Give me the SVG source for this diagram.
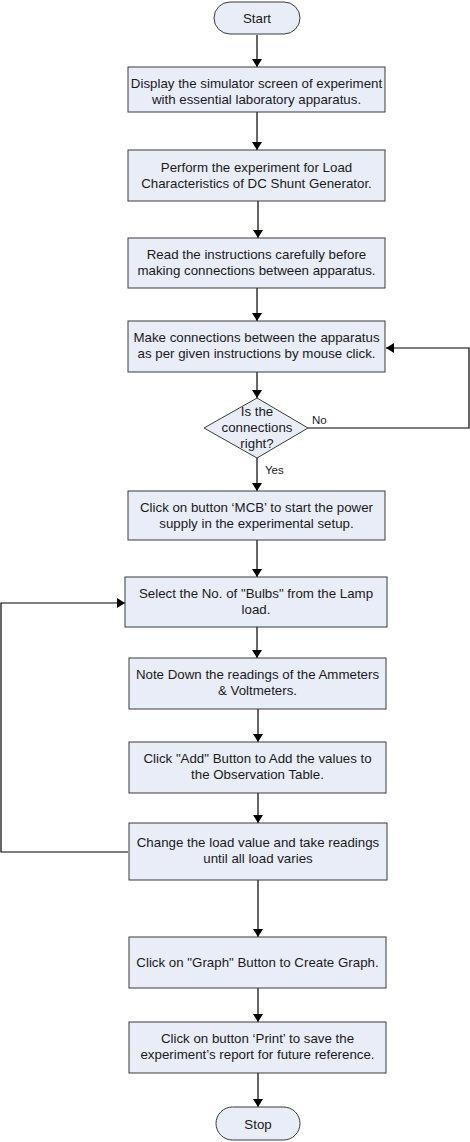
<svg xmlns="http://www.w3.org/2000/svg" width="470" height="1142" viewBox="0 0 470 1142">
<style>
.n{fill:#E8EDF7;stroke:#3a3a3a;stroke-width:1}
.t{font-family:"Liberation Sans",Arial,sans-serif;font-size:13.3px;fill:#1a1a1a;text-anchor:middle}
.l{font-family:"Liberation Sans",Arial,sans-serif;font-size:11.5px;fill:#1a1a1a}
.c{fill:none;stroke:#000;stroke-width:1.2;marker-end:url(#a)}
</style>
<defs>
<marker id="a" markerWidth="8" markerHeight="10" refX="8" refY="5" orient="auto" markerUnits="userSpaceOnUse">
<path d="M0,0 L8,5 L0,10 Z" fill="#000"/>
</marker>
</defs>
<rect width="470" height="1142" fill="#fff"/>
<g id="connectors">
<path class="c" d="M257,35 V67"/>
<path class="c" d="M257,112 V150"/>
<path class="c" d="M258,201 V238"/>
<path class="c" d="M257,288 V321"/>
<path class="c" d="M257,372 V398"/>
<path class="c" d="M308,428 H469 V348 H386"/>
<path class="c" d="M257,458 V491"/>
<path class="c" d="M257,540 V577"/>
<path class="c" d="M128,852 H1 V603 H125"/>
<path class="c" d="M257,627 V658"/>
<path class="c" d="M258,709 V742"/>
<path class="c" d="M258,793 V823"/>
<path class="c" d="M258,880 V937"/>
<path class="c" d="M258,988 V1022"/>
<path class="c" d="M258,1073 V1107"/>
</g>
<g id="start"><rect class="n" x="214" y="2" width="86" height="32" rx="16"/><text class="t" x="257" y="23">Start</text></g>
<g id="display"><rect class="n" x="128" y="67" width="257" height="45"/><text class="t" x="256.5" y="88">Display the simulator screen of experiment</text><text class="t" x="256.5" y="104">with essential laboratory apparatus.</text></g>
<g id="perform"><rect class="n" x="128" y="150" width="257" height="51"/><text class="t" x="256.5" y="172">Perform the experiment for Load</text><text class="t" x="256.5" y="188">Characteristics of DC Shunt Generator.</text></g>
<g id="read"><rect class="n" x="128" y="238" width="257" height="50"/><text class="t" x="256.5" y="259">Read the instructions carefully before</text><text class="t" x="256.5" y="275">making connections between apparatus.</text></g>
<g id="connect"><rect class="n" x="128" y="321" width="257" height="51"/><text class="t" x="256.5" y="342">Make connections between the apparatus</text><text class="t" x="256.5" y="358">as per given instructions by mouse click.</text></g>
<g id="decision"><polygon class="n" points="257,398 308,428 257,458 204,428"/><text class="t" x="257" y="416">Is the</text><text class="t" x="257" y="432">connections</text><text class="t" x="257" y="448">right?</text></g>
<text class="l" x="312" y="424">No</text>
<text class="l" x="265" y="474">Yes</text>
<g id="mcb"><rect class="n" x="128" y="491" width="257" height="49"/><text class="t" x="256.5" y="512">Click on button ‘MCB’ to start the power</text><text class="t" x="256.5" y="528">supply in the experimental setup.</text></g>
<g id="bulbs"><rect class="n" x="125" y="577" width="262" height="50"/><text class="t" x="256" y="598">Select the No. of "Bulbs" from the Lamp</text><text class="t" x="256" y="614">load.</text></g>
<g id="note"><rect class="n" x="129" y="658" width="257" height="51"/><text class="t" x="257.5" y="679">Note Down the readings of the Ammeters</text><text class="t" x="257.5" y="695">&amp; Voltmeters.</text></g>
<g id="add"><rect class="n" x="129" y="742" width="257" height="51"/><text class="t" x="257.5" y="763">Click "Add" Button to Add the values to</text><text class="t" x="257.5" y="779">the Observation Table.</text></g>
<g id="change"><rect class="n" x="129" y="823" width="258" height="57"/><text class="t" x="258" y="847">Change the load value and take readings</text><text class="t" x="258" y="863">until all load varies</text></g>
<g id="graph"><rect class="n" x="129" y="937" width="257" height="51"/><text class="t" x="257.5" y="967">Click on "Graph" Button to Create Graph.</text></g>
<g id="print"><rect class="n" x="129" y="1022" width="257" height="51"/><text class="t" x="257.5" y="1043">Click on button ‘Print’ to save the</text><text class="t" x="257.5" y="1059">experiment’s report for future reference.</text></g>
<g id="stop"><rect class="n" x="216" y="1107" width="84" height="33" rx="16.5"/><text class="t" x="258" y="1129">Stop</text></g>
</svg>
